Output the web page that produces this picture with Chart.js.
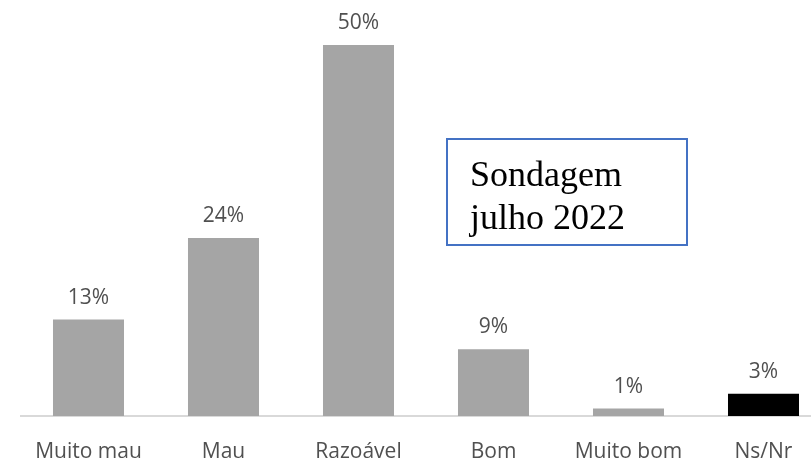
<!DOCTYPE html>
<html>
<head>
<meta charset="utf-8">
<script src="https://cdn.jsdelivr.net/npm/chart.js@4"></script>
<style>
  html, body { margin: 0; padding: 0; background: #fff; overflow: hidden; }
  #wrap { position: relative; width: 811px; height: 464px; overflow: hidden; }
  #holder { position: absolute; left: 0; top: 0; width: 831px; height: 464px; }
  #note {
    position: absolute; left: 446px; top: 138px; width: 242px; height: 108px;
    border: 2px solid #4472C4; box-sizing: border-box;
    font-family: "Liberation Serif", serif; font-size: 36px; line-height: 43px;
    color: #000; padding: 13px 0 0 22px;
  }
</style>
</head>
<body>
<div id="wrap">
  <div id="holder"><canvas id="chartCanvas"></canvas></div>
  <div id="note">Sondagem<br>julho 2022</div>
</div>
<script>
// Categories and values (percent)
const categories = ['Muito mau', 'Mau', 'Razoável', 'Bom', 'Muito bom', 'Ns/Nr'];
const values = [13, 24, 50, 9, 1, 3];
const barColors = ['#A5A5A5', '#A5A5A5', '#A5A5A5', '#A5A5A5', '#A5A5A5', '#000000'];

// Draw the value labels above each bar
const valueLabels = {
  id: 'valueLabels',
  afterDatasetsDraw(chart) {
    const ctx = chart.ctx;
    const meta = chart.getDatasetMeta(0);
    ctx.save();
    ctx.font = '21px "Open Sans", sans-serif';
    ctx.fillStyle = '#505050';
    ctx.textAlign = 'center';
    ctx.textBaseline = 'middle';
    meta.data.forEach((bar, i) => {
      ctx.fillText(values[i] + '%', bar.x, bar.y - 22);
    });
    ctx.restore();
  }
};

const chartCanvas = document.getElementById('chartCanvas');
const chart = new Chart(chartCanvas.getContext('2d'), {
  type: 'bar',
  data: {
    labels: categories,
    datasets: [{
      data: values,
      backgroundColor: barColors,
      barPercentage: 0.526,
      categoryPercentage: 1
    }]
  },
  options: {
    responsive: true,
    maintainAspectRatio: false,
    animation: false,
    layout: { padding: { left: 21, right: 0, top: 8, bottom: 0 } },
    plugins: { legend: { display: false }, tooltip: { enabled: false } },
    scales: {
      x: {
        grid: { display: false },
        border: { color: '#D9D9D9', width: 2 },
        afterFit(scale) { scale.height = 48; },
        ticks: {
          color: '#505050',
          padding: 15,
          maxRotation: 0,
          font: { family: '"Open Sans", sans-serif', size: 21 }
        }
      },
      y: {
        display: false,
        min: 0,
        max: 55
      }
    }
  },
  plugins: [valueLabels]
});
</script>
</body>
</html>
